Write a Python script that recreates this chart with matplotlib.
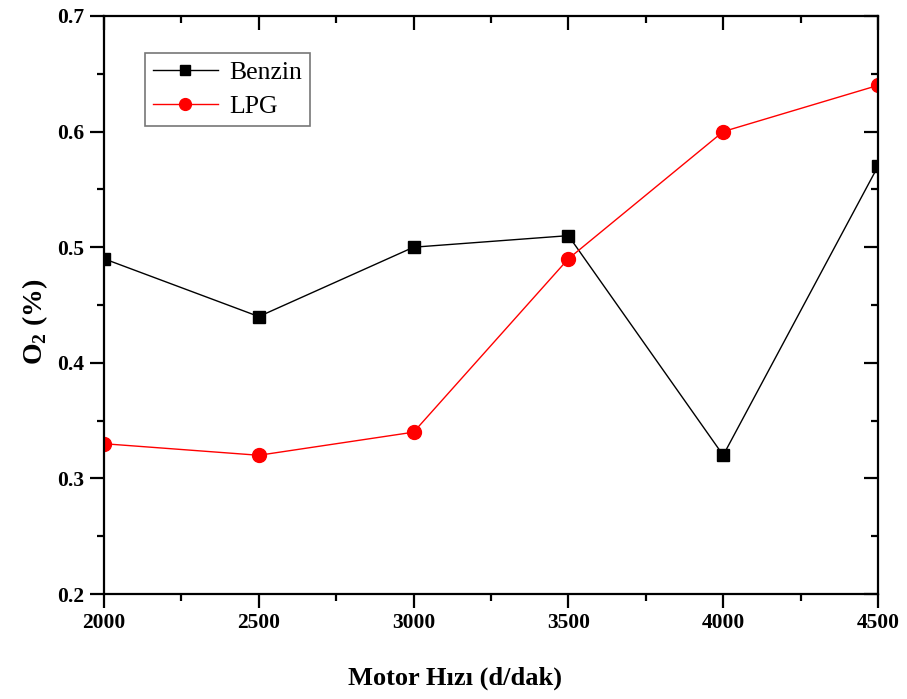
import matplotlib
matplotlib.use("Agg")
import matplotlib.pyplot as plt
from matplotlib.ticker import MultipleLocator, FormatStrFormatter

# engine speed (rpm) and O2 readings
speed = [2000, 2500, 3000, 3500, 4000, 4500]
benzin = [0.49, 0.44, 0.50, 0.51, 0.32, 0.57]
lpg = [0.33, 0.32, 0.34, 0.49, 0.60, 0.64]

plt.rcParams["font.family"] = ["Liberation Serif", "DejaVu Serif"]
plt.rcParams["mathtext.fontset"] = "custom"
plt.rcParams["mathtext.rm"] = "Liberation Serif"
plt.rcParams["mathtext.bf"] = "Liberation Serif:bold"

fig = plt.figure(figsize=(9.07, 6.99), dpi=100)
ax = fig.add_axes([104 / 907, 1 - 594 / 699, (878 - 104) / 907, (594 - 16) / 699])

ax.plot(speed, benzin, color="black", lw=1, marker="s", ms=8.5, label="Benzin")
ax.plot(speed, lpg, color="red", lw=1, marker="o", ms=10, label="LPG")

ax.set_xlim(2000, 4500)
ax.set_ylim(0.2, 0.7)


def set_locators(a):
    a.xaxis.set_major_locator(MultipleLocator(500))
    a.xaxis.set_minor_locator(MultipleLocator(250))
    a.yaxis.set_major_locator(MultipleLocator(0.1))
    a.yaxis.set_minor_locator(MultipleLocator(0.05))


set_locators(ax)
ax.yaxis.set_major_formatter(FormatStrFormatter("%.1f"))

for s in ax.spines.values():
    s.set_linewidth(1.6)

# outward ticks on left/bottom
ax.tick_params(which="both", direction="out", width=1.6, labelsize=15.5, pad=4,
               top=False, right=False)
ax.tick_params(which="major", length=10)
ax.tick_params(which="minor", length=5)
for lab in ax.get_xticklabels() + ax.get_yticklabels():
    lab.set_fontweight("bold")

# overlay axes only for the inward ticks on top/right
ax2 = fig.add_axes(ax.get_position(), frameon=False, sharex=ax, sharey=ax)
ax2.patch.set_visible(False)
ax2.tick_params(which="both", direction="in", width=1.6,
                bottom=False, left=False, top=True, right=True,
                labelbottom=False, labelleft=False)
ax2.tick_params(which="major", length=10)
ax2.tick_params(which="minor", length=5)

fig.text(35 / 907, 1 - 322 / 699, r"O$_\mathbf{2}$ (%)", fontsize=20,
         fontweight="bold", rotation=90, ha="center", va="center")
fig.text(455 / 907, 1 - 678 / 699, "Motor Hızı (d/dak)", fontsize=19,
         fontweight="bold", ha="center", va="center")

leg = ax.legend(loc="upper left", bbox_to_anchor=(28 / 774, 1 - 24 / 578),
                fontsize=18.5, frameon=True, fancybox=False, edgecolor="#555555",
                borderpad=0.33, handlelength=2.5, labelspacing=0.4,
                handletextpad=0.45, markerscale=0.85, borderaxespad=0.5)
leg.get_frame().set_linewidth(1.2)

fig.savefig("out.png", dpi=100)
